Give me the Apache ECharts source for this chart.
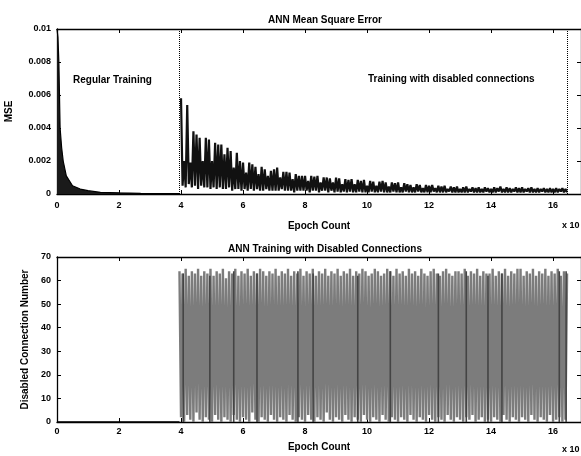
<!DOCTYPE html>
<html>
<head>
<meta charset="utf-8">
<script src="https://cdn.jsdelivr.net/npm/echarts@6/dist/echarts.min.js"></script>
<style>
  html, body { margin: 0; padding: 0; background: #fff; }
  #chart { width: 581px; height: 456px; }
</style>
</head>
<body>
<div id="chart"></div>
<script>
// epochs are in units of 10^4 (axis reads "x 10^4")
var regularEpochs = [0, 0.03, 0.06, 0.1, 0.15, 0.2, 0.3, 0.4, 0.5, 0.75, 1.0, 1.4, 2.0, 2.7, 3.95];
var regularMse = [0.0100, 0.0095, 0.0080, 0.0040, 0.0028, 0.0020, 0.0011, 0.0008, 0.0005, 0.0003, 0.0002, 0.0001, 0.00007, 0.00004, 0.00003];

// spikes after connections get disabled, MSE x 1e-3, one peak every 0.1 from 4.0
var spikeStart = 4.0;
var spikeStep = 0.1;
var mseSpikePeaks = [
  5.8, 2.0, 5.4, 1.9, 3.8, 3.6, 3.4, 2.0, 3.4, 3.3,
  2.0, 3.1, 3.0, 3.0, 2.4, 2.8, 2.6, 1.6, 2.5, 2.0,
  1.9, 1.3, 1.9, 1.8, 1.65, 1.2, 1.65, 1.5, 1.1, 1.4,
  1.5, 1.6, 1.0, 1.35, 1.35, 1.3, 0.9, 1.2, 1.1, 1.1,
  1.1, 0.8, 1.1, 1.05, 1.1, 0.7, 1.0, 1.0, 0.95, 0.7,
  1.0, 0.95, 0.6, 0.9, 0.85, 0.9, 0.6, 0.85, 0.8, 0.85,
  0.5, 0.8, 0.75, 0.5, 0.75, 0.8, 0.7, 0.45, 0.7, 0.65,
  0.7, 0.4, 0.65, 0.6, 0.55, 0.4, 0.6, 0.55, 0.35, 0.55,
  0.5, 0.55, 0.35, 0.5, 0.45, 0.5, 0.3, 0.45, 0.4, 0.45,
  0.3, 0.4, 0.45, 0.3, 0.4, 0.35, 0.4, 0.3, 0.4, 0.35,
  0.3, 0.4, 0.35, 0.45, 0.3, 0.4, 0.35, 0.3, 0.4, 0.35,
  0.4, 0.3, 0.35, 0.4, 0.3, 0.35, 0.3, 0.35, 0.3, 0.35,
  0.3, 0.35, 0.3, 0.35, 0.3
];
var mseSpikeLows = [
  0.5, 0.4, 0.6, 0.4, 0.5, 0.3, 0.5, 0.4, 0.4, 0.3,
  0.4, 0.3, 0.4, 0.3, 0.3, 0.4, 0.2, 0.3, 0.3, 0.2,
  0.3, 0.2, 0.3, 0.2, 0.3, 0.2, 0.2, 0.3, 0.2, 0.2,
  0.2, 0.2, 0.3, 0.2, 0.2, 0.2, 0.1, 0.2, 0.2, 0.2,
  0.2, 0.1, 0.2, 0.2, 0.1, 0.2, 0.2, 0.1, 0.2, 0.1,
  0.15, 0.1, 0.15, 0.1, 0.15, 0.1, 0.1, 0.15, 0.1, 0.1,
  0.1, 0.15, 0.1, 0.1, 0.15, 0.1, 0.1, 0.1, 0.15, 0.1,
  0.1, 0.1, 0.15, 0.1, 0.1, 0.1, 0.15, 0.1, 0.1, 0.1,
  0.1, 0.15, 0.1, 0.1, 0.1, 0.1, 0.15, 0.1, 0.1, 0.1,
  0.1, 0.1, 0.1, 0.15, 0.1, 0.1, 0.1, 0.1, 0.15, 0.1,
  0.1, 0.1, 0.15, 0.1, 0.1, 0.1, 0.1, 0.15, 0.1, 0.1,
  0.1, 0.15, 0.1, 0.1, 0.1, 0.1, 0.15, 0.1, 0.1, 0.1,
  0.1, 0.1, 0.15, 0.1, 0.1
];
var phaseBounds = [3.95, 16.45];

// disabled connection number, sampled every 0.05 from 3.95
var connRegularEpochs = [0, 3.95];
var connRegularValues = [0, 0];
var connStart = 3.95;
var connStep = 0.05;
var connValues = [
  64, 2, 63, 0, 65, 3, 62, 1, 64, 0, 63, 4, 65, 1, 62, 0, 64, 2, 63, 1,
  65, 0, 62, 3, 64, 1, 63, 0, 65, 2, 61, 1, 64, 0, 63, 3, 65, 1, 62, 0,
  64, 2, 63, 1, 65, 0, 62, 4, 64, 1, 63, 0, 65, 2, 64, 1, 62, 0, 64, 3,
  63, 1, 65, 0, 62, 2, 64, 1, 63, 0, 65, 3, 62, 1, 64, 0, 63, 2, 65, 1,
  62, 0, 64, 3, 63, 1, 65, 0, 62, 2, 64, 1, 63, 0, 65, 4, 62, 1, 64, 0,
  63, 2, 65, 1, 62, 0, 64, 3, 63, 1, 65, 0, 62, 2, 64, 1, 63, 0, 65, 3,
  64, 1, 62, 0, 63, 2, 65, 1, 64, 0, 62, 3, 63, 1, 65, 0, 64, 2, 62, 1,
  65, 0, 63, 2, 64, 1, 62, 0, 65, 3, 63, 1, 64, 0, 62, 2, 65, 1, 63, 0,
  62, 3, 64, 1, 65, 0, 63, 2, 62, 1, 64, 0, 65, 3, 63, 1, 62, 0, 64, 2,
  64, 1, 63, 0, 65, 2, 62, 1, 64, 3, 63, 0, 65, 1, 62, 2, 64, 0, 63, 1,
  63, 0, 65, 2, 62, 1, 64, 0, 63, 3, 65, 1, 62, 0, 64, 2, 63, 1, 65, 0,
  65, 2, 62, 1, 64, 0, 63, 3, 65, 1, 62, 0, 64, 2, 63, 1, 65, 0, 62, 3,
  64, 0, 63, 1, 65, 2, 62, 0, 64, 1, 63
];
// epochs where the connection trace stays up for a while (darker streaks)
var streakEpochs = [4.07, 4.93, 5.7, 6.45, 7.77, 8.26, 9.7, 10.75, 12.3, 13.2, 13.9, 14.35, 16.2, 16.42];
var streakTops = [63, 62, 64, 63, 64, 63, 62, 64, 63, 64, 62, 63, 64, 64];

var FONT = '"Liberation Sans", Arial, sans-serif';

var regularData = regularEpochs.map(function (x, i) { return [x, regularMse[i]]; });
var spikeData = [];
mseSpikePeaks.forEach(function (p, i) {
  var x = spikeStart + i * spikeStep;
  spikeData.push([x, p / 1000]);
  if (mseSpikeLows[i] !== undefined) spikeData.push([x + spikeStep / 2, mseSpikeLows[i] / 1000]);
});
var connRegularData = connRegularEpochs.map(function (x, i) { return [x, connRegularValues[i]]; });
var connData = connValues.map(function (v, i) { return [connStart + i * connStep, v]; });
var streakData = [];
streakEpochs.forEach(function (x, i) {
  streakData.push([x, 0], [x, streakTops[i]], [x, '-']);
});

function xAx(grid, pos, name, gap, margin) {
  return {
    type: 'value', gridIndex: grid, position: pos, min: 0, max: 16.9, interval: 2,
    name: name, nameLocation: 'middle', nameGap: gap,
    nameTextStyle: { color: '#000', fontFamily: FONT, fontWeight: 'bold', fontSize: 10 },
    axisLine: { onZero: false, lineStyle: { color: '#000', width: 1.3 } },
    axisTick: { inside: true, length: 4, lineStyle: { color: '#000' } },
    axisLabel: { show: pos === 'bottom', margin: margin, showMaxLabel: false, color: '#000', fontFamily: FONT, fontWeight: 'bold', fontSize: 9 },
    splitLine: { show: false }
  };
}
function yAx(grid, pos, max, step, name, gap, fmt) {
  return {
    type: 'value', gridIndex: grid, position: pos, min: 0, max: max, interval: step,
    name: name, nameLocation: 'middle', nameGap: gap,
    nameTextStyle: { color: '#000', fontFamily: FONT, fontWeight: 'bold', fontSize: 10 },
    axisLine: { show: true, onZero: false, lineStyle: { color: '#000', width: 1.3 } },
    axisTick: { show: true, inside: true, length: 4, lineStyle: { color: '#000' } },
    axisLabel: { show: pos === 'left', margin: 6, formatter: fmt, color: '#000', fontFamily: FONT, fontWeight: 'bold', fontSize: 9 },
    splitLine: { show: false }
  };
}

var chart = echarts.init(document.getElementById('chart'));
chart.setOption({
  animation: false,
  backgroundColor: '#fff',
  title: [
    { text: 'ANN Mean Square Error', left: 320, top: 10, textAlign: 'center',
      textStyle: { color: '#000', fontFamily: FONT, fontWeight: 'bold', fontSize: 10 } },
    { text: 'ANN Training with Disabled Connections', left: 320, top: 239, textAlign: 'center',
      textStyle: { color: '#000', fontFamily: FONT, fontWeight: 'bold', fontSize: 10 } }
  ],
  grid: [
    { left: 57, top: 29, width: 524, height: 165, outerBoundsMode: 'none' },
    { left: 57, top: 257, width: 524, height: 165, outerBoundsMode: 'none' }
  ],
  xAxis: [
    xAx(0, 'bottom', 'Epoch Count', 27, 7),
    xAx(0, 'top', '', 0, 0),
    xAx(1, 'bottom', 'Epoch Count', 20, 5),
    xAx(1, 'top', '', 0, 0)
  ],
  yAxis: [
    yAx(0, 'left', 0.01, 0.002, 'MSE', 43, function (v) { return v === 0 ? '0' : String(+v.toFixed(3)); }),
    yAx(0, 'right', 0.01, 0.002, '', 0),
    yAx(1, 'left', 70, 10, 'Disabled Connection Number', 24),
    yAx(1, 'right', 70, 10, '', 0)
  ],
  graphic: [
    { type: 'text', left: 73, top: 75, style: { text: 'Regular Training', fill: '#000', font: 'bold 10px ' + FONT } },
    { type: 'text', left: 368, top: 74, style: { text: 'Training with disabled connections', fill: '#000', font: 'bold 10px ' + FONT } },
    { type: 'text', left: 562, top: 221, style: { text: 'x 10', fill: '#000', font: 'bold 9px ' + FONT } },
    { type: 'text', left: 562, top: 445, style: { text: 'x 10', fill: '#000', font: 'bold 9px ' + FONT } }
  ],
  series: [
    {
      type: 'line', xAxisIndex: 0, yAxisIndex: 0, data: regularData, showSymbol: false,
      lineStyle: { color: '#000', width: 1.2 }, areaStyle: { color: '#1a1a1a', opacity: 1 }
    },
    {
      type: 'line', xAxisIndex: 0, yAxisIndex: 0, data: spikeData, showSymbol: false,
      lineStyle: { color: '#111', width: 2.2 },
      markLine: {
        silent: true, symbol: 'none', label: { show: false },
        lineStyle: { color: '#000', type: 'dotted', width: 1 },
        data: phaseBounds.map(function (x) { return { xAxis: x }; })
      }
    },
    {
      type: 'line', xAxisIndex: 2, yAxisIndex: 2, data: connRegularData, showSymbol: false,
      lineStyle: { color: '#000', width: 1.5 }
    },
    {
      type: 'line', xAxisIndex: 2, yAxisIndex: 2, data: connData, showSymbol: false,
      lineStyle: { color: '#7c7c7c', width: 2.4 }
    },
    {
      type: 'line', xAxisIndex: 2, yAxisIndex: 2, data: streakData, showSymbol: false,
      connectNulls: false, lineStyle: { color: '#444', width: 1.6 }
    }
  ]
});
</script>
</body>
</html>
